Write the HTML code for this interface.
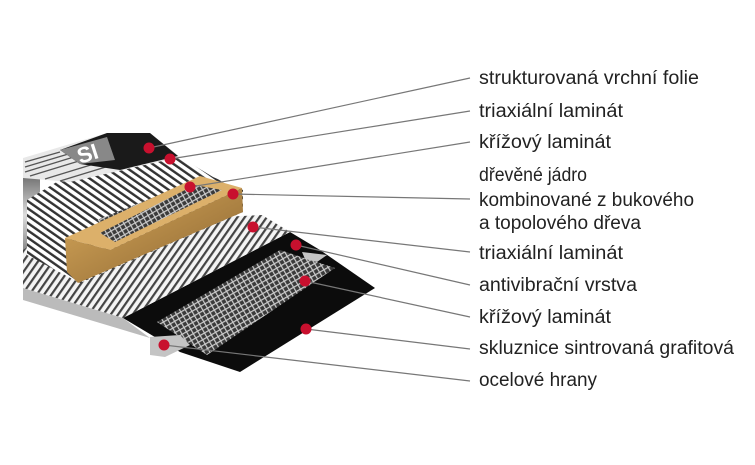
<!DOCTYPE html>
<html><head><meta charset="utf-8"><style>
html,body{margin:0;padding:0;background:#fff;}
svg{display:block;}
text{font-family:"Liberation Sans",sans-serif;font-size:19px;fill:#222;}
</style></head><body>
<svg width="755" height="465" viewBox="0 0 755 465" xmlns="http://www.w3.org/2000/svg">
<defs>
<pattern id="hatch" width="6" height="6" patternUnits="userSpaceOnUse" patternTransform="rotate(-55)">
<rect width="6" height="6" fill="#fff"/><rect width="2.4" height="6" fill="#333"/></pattern>
<pattern id="hatch2" width="6" height="6" patternUnits="userSpaceOnUse" patternTransform="rotate(35)">
<rect width="6" height="6" fill="#f4f4f4"/><rect width="2.2" height="6" fill="#444"/></pattern>
<pattern id="grid" width="5" height="5" patternUnits="userSpaceOnUse" patternTransform="rotate(-30)">
<rect width="5" height="5" fill="#3a3a3a"/><rect width="5" height="1.2" fill="#ccc"/><rect width="1.2" height="5" fill="#ccc"/></pattern>
<linearGradient id="wood" x1="0" y1="0" x2="1" y2="1"><stop offset="0" stop-color="#d9aa5c"/><stop offset="1" stop-color="#8a6430"/></linearGradient>
<linearGradient id="side" x1="0" y1="0" x2="0" y2="1"><stop offset="0" stop-color="#666"/><stop offset="0.5" stop-color="#ddd"/><stop offset="1" stop-color="#777"/></linearGradient>
</defs>
<!-- side wall -->
<polygon points="23,176 40,172 40,250 23,258" fill="url(#side)"/>
<!-- black base -->
<polygon points="123,318 290,232 320,250 375,288 240,372 180,352" fill="#0c0c0c"/>
<!-- lower hatched triaxial -->
<polygon points="23,250 60,225 262,215 290,232 123,318 23,288" fill="url(#hatch2)"/>
<polygon points="23,288 123,318 150,338 23,300" fill="#bbb"/>
<!-- grid layer -->
<polygon points="157,322 280,250 335,268 207,355" fill="url(#grid)"/>
<!-- steel edges -->
<polygon points="150,337 180,335 190,345 165,357 150,355" fill="#c4c4c4"/>
<polygon points="302,252 327,255 317,262 305,259" fill="#c4c4c4"/>
<!-- upper shell hatched -->
<polygon points="27,200 60,180 180,157 213,177 243,190 243,212 80,283 27,255" fill="url(#hatch)"/>
<!-- top foil -->
<polygon points="23,158 107,133 150,133 180,157 70,182 23,178" fill="#e8e8e8"/>
<g stroke="#555" stroke-width="1.3">
<line x1="25" y1="162" x2="60" y2="152"/><line x1="25" y1="167" x2="75" y2="152"/><line x1="25" y1="172" x2="90" y2="152"/><line x1="30" y1="176" x2="105" y2="153"/><line x1="45" y1="179" x2="120" y2="156"/><line x1="60" y1="181" x2="135" y2="158"/>
</g>
<polygon points="60,150 107,133 150,133 178,156 120,170 80,164" fill="#1a1a1a"/>
<polygon points="60,150 107,137 115,160 80,164" fill="#888"/>
<text x="80" y="164" style="font-size:22px;font-weight:bold;fill:#fff" transform="rotate(-18 80 164)">SI</text>
<!-- upper cross laminate strip -->
<polygon points="97,220 197,180 210,185 110,232" fill="url(#grid)"/>
<!-- wood core -->
<polygon points="65,238 200,176 242,188 110,250" fill="#dcb06a"/>
<polygon points="100,233 195,185 222,190 115,242" fill="url(#grid)"/>
<polygon points="65,238 110,250 242,188 243,212 78,283 67,272" fill="url(#wood)"/>
<!-- leader lines -->
<g stroke="#777" stroke-width="1.2" fill="none">
<line x1="149" y1="148" x2="470" y2="78"/>
<line x1="170" y1="159" x2="470" y2="111"/>
<line x1="190" y1="187" x2="470" y2="142"/>
<line x1="233" y1="194" x2="470" y2="199"/>
<line x1="253" y1="227" x2="470" y2="252"/>
<line x1="296" y1="245" x2="470" y2="285"/>
<line x1="305" y1="281" x2="470" y2="317"/>
<line x1="306" y1="329" x2="470" y2="349"/>
<line x1="164" y1="345" x2="470" y2="381"/>
</g>
<g fill="#c8102e">
<circle cx="149" cy="148" r="5.5"/><circle cx="170" cy="159" r="5.5"/><circle cx="190" cy="187" r="5.5"/>
<circle cx="233" cy="194" r="5.5"/><circle cx="253" cy="227" r="5.5"/><circle cx="296" cy="245" r="5.5"/>
<circle cx="305" cy="281" r="5.5"/><circle cx="306" cy="329" r="5.5"/><circle cx="164" cy="345" r="5.5"/>
</g>
<g>
<text x="479" y="84" textLength="220" lengthAdjust="spacingAndGlyphs">strukturovaná vrchní folie</text>
<text x="479" y="117" textLength="144" lengthAdjust="spacingAndGlyphs">triaxiální laminát</text>
<text x="479" y="148" textLength="132" lengthAdjust="spacingAndGlyphs">křížový laminát</text>
<text x="479" y="181" textLength="108" lengthAdjust="spacingAndGlyphs">dřevěné jádro</text>
<text x="479" y="206" textLength="215" lengthAdjust="spacingAndGlyphs">kombinované z bukového</text>
<text x="479" y="229" textLength="162" lengthAdjust="spacingAndGlyphs">a topolového dřeva</text>
<text x="479" y="259" textLength="144" lengthAdjust="spacingAndGlyphs">triaxiální laminát</text>
<text x="479" y="291" textLength="158" lengthAdjust="spacingAndGlyphs">antivibrační vrstva</text>
<text x="479" y="323" textLength="132" lengthAdjust="spacingAndGlyphs">křížový laminát</text>
<text x="479" y="354" textLength="255" lengthAdjust="spacingAndGlyphs">skluznice sintrovaná grafitová</text>
<text x="479" y="386" textLength="118" lengthAdjust="spacingAndGlyphs">ocelové hrany</text>
</g>
</svg>
</body></html>
